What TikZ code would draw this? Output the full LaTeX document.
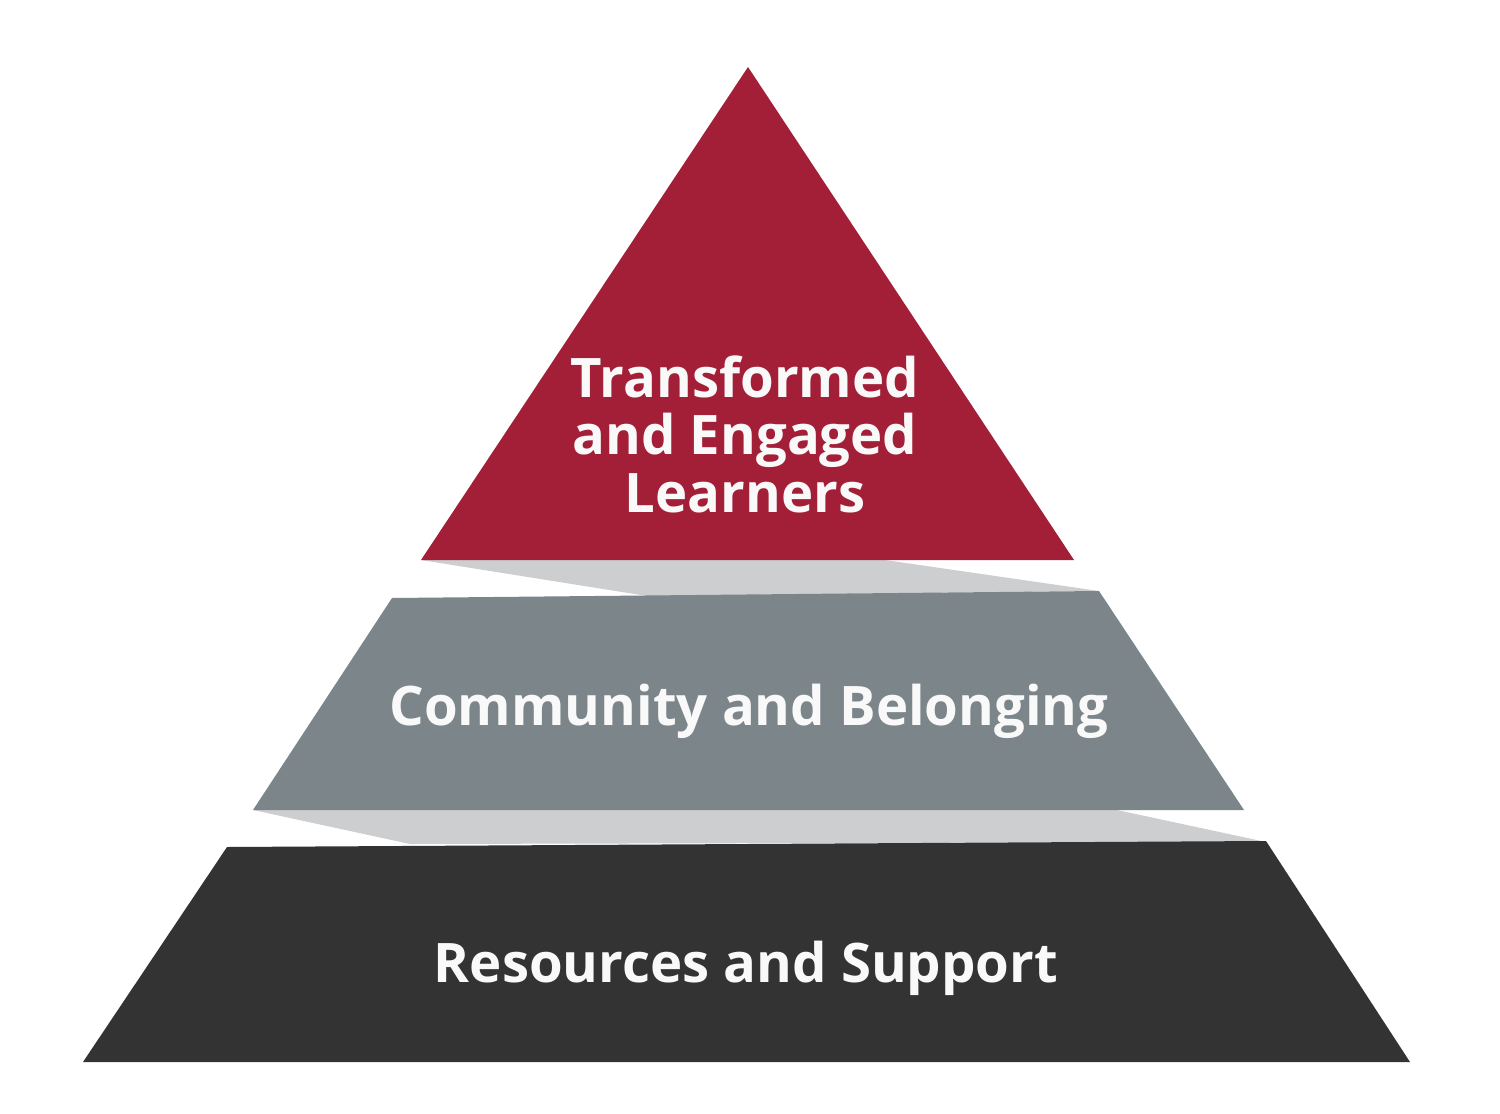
\documentclass[tikz,border=0pt]{standalone}
\usepackage{fontspec}
\setmainfont{Open Sans}
\definecolor{topred}{HTML}{A21F37}
\definecolor{midgray}{HTML}{7B858A}
\definecolor{basedark}{HTML}{333333}
\definecolor{bandgray}{HTML}{CDCED0}
\definecolor{txtwhite}{HTML}{F9F9F9}
\begin{document}
\begin{tikzpicture}[x=1pt,y=-1pt,
  label/.style={text=txtwhite,font=\fontsize{54.5}{57.5}\selectfont\bfseries,inner sep=0pt,align=center,anchor=base}]
\useasboundingbox (0,0) rectangle (1500,1114);
% connecting bands
\fill[bandgray] (421,560) -- (885,560) -- (1099,591) -- (647,596) -- cycle;
\fill[bandgray] (253,810) -- (1117,810) -- (1266,842) -- (410,844) -- cycle;
% tiers
\fill[topred] (748,67) -- (1074,560) -- (421,560) -- cycle;
\fill[midgray] (392,598) -- (1099,591) -- (1244,810) -- (253,810) -- cycle;
\fill[basedark] (227,847) -- (1266,841) -- (1410,1062) -- (83,1062) -- cycle;
% labels
\node[label] (top) at (745,512) {Transformed\\and Engaged\\Learners};
\node[label] (mid) at (749,725) {Community and Belonging};
\node[label] (bot) at (746,982) {Resources and Support};
\end{tikzpicture}
\end{document}
